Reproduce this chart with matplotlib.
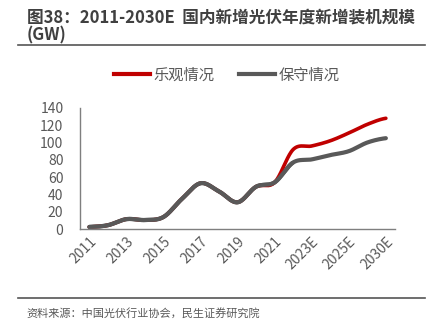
import numpy as np
import matplotlib
matplotlib.use('Agg')
import matplotlib.pyplot as plt
from matplotlib.lines import Line2D

plt.rcParams['font.family'] = ['Noto Sans CJK SC', 'DejaVu Sans']

years = ['2011', '2012', '2013', '2014', '2015', '2016', '2017', '2018', '2019',
         '2020', '2021', '2022', '2023E', '2024E', '2025E', '2027E', '2030E']
optimistic = [2.5, 4.5, 11.5, 10.5, 14, 35, 53, 43.5, 31, 49, 54,
              92, 96, 102, 111, 121, 128]
conservative = [2.5, 4.5, 11.5, 10.5, 14, 35, 53, 43.5, 31, 49, 54,
                77, 80.5, 85.5, 90, 100, 105]
tick_labels = [y if i % 2 == 0 else '' for i, y in enumerate(years)]


def smooth(vals, n=30):
    # catmull-rom style curve, like excel's smoothed line
    p = np.asarray(vals, dtype=float)
    pp = np.concatenate(([p[0]], p, [p[-1]]))
    xs, ys = [], []
    for i in range(len(p) - 1):
        p0, p1, p2, p3 = pp[i], pp[i + 1], pp[i + 2], pp[i + 3]
        t = np.linspace(0, 1, n, endpoint=False)
        y = 0.5 * ((2 * p1) + (-p0 + p2) * t +
                   (2 * p0 - 5 * p1 + 4 * p2 - p3) * t ** 2 +
                   (-p0 + 3 * p1 - 3 * p2 + p3) * t ** 3)
        xs.append(i + t)
        ys.append(y)
    xs.append([len(p) - 1])
    ys.append([p[-1]])
    return np.concatenate(xs), np.concatenate(ys)


red = '#C00000'
gray = '#595959'
txt = '#404040'

fig = plt.figure(figsize=(4.4, 3.33), dpi=100)
ax = fig.add_axes([0.182, 0.312, 0.716, 0.364])

x, y = smooth(conservative)
ax.plot(x, y, color=gray, lw=3.0, solid_capstyle='round')
x, y = smooth(optimistic)
ax.plot(x, y, color=red, lw=2.6, solid_capstyle='round')
x, y = smooth(conservative)
ax.plot(x[:11 * 30], y[:11 * 30], color=gray, lw=3.0, solid_capstyle='round')

ax.set_xlim(-0.5, len(years) - 0.5)
ax.set_ylim(0, 140)
ax.set_yticks(range(0, 141, 20))
ax.set_xticks(range(len(years)))
ax.set_xticklabels(tick_labels, rotation=45, ha='right', rotation_mode='anchor')
ax.tick_params(axis='both', length=0, labelsize=10, labelcolor=gray)
ax.tick_params(axis='y', pad=12)
ax.tick_params(axis='x', pad=4)
for s in ['top', 'right']:
    ax.spines[s].set_visible(False)
for s in ['left', 'bottom']:
    ax.spines[s].set_color('#7f7f7f')
    ax.spines[s].set_linewidth(1.0)

handles = [Line2D([], [], color=red, lw=3), Line2D([], [], color=gray, lw=3)]
fig.legend(handles, ['乐观情况', '保守情况'], loc='center', bbox_to_anchor=(0.515, 0.775),
           ncol=2, frameon=False, fontsize=11, handlelength=2.4, handletextpad=0.2,
           columnspacing=1.6, labelcolor=gray)

fig.text(0.061, 0.948, '图38：2011-2030E  国内新增光伏年度新增装机规模', fontsize=12,
         fontweight='bold', color=txt, va='center')
fig.text(0.061, 0.893, '(GW)', fontsize=12, fontweight='bold', color=txt, va='center')
fig.add_artist(Line2D([0.041, 0.966], [0.865, 0.865], color='#555555', lw=1.2))
fig.add_artist(Line2D([0.041, 0.966], [0.105, 0.105], color='#555555', lw=1.2))
fig.text(0.061, 0.058, '资料来源：中国光伏行业协会，民生证券研究院', fontsize=8,
         color=gray, va='center')

fig.savefig('out.png', dpi=100)
